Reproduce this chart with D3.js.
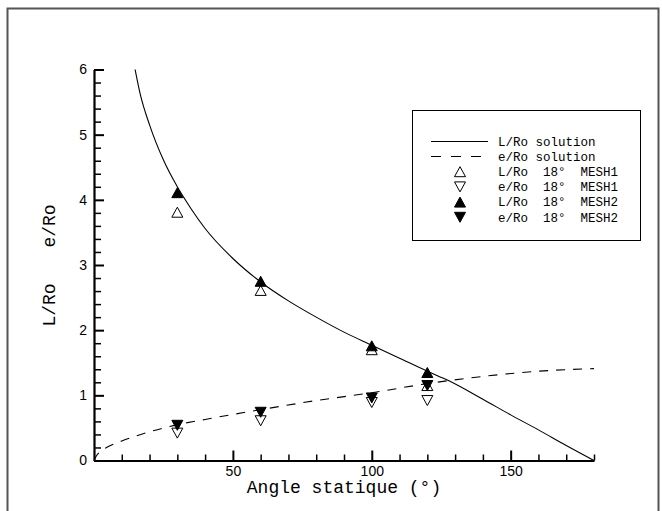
<!DOCTYPE html>
<html>
<head>
<meta charset="utf-8">
<script src="https://cdn.jsdelivr.net/npm/d3@7"></script>
<style>
html,body{margin:0;padding:0;background:#fff;}
svg{display:block;}
</style>
</head>
<body>
<svg id="chart" width="662" height="511"></svg>
<script>
// ---- data ----
const angles = [30, 60, 100, 120];
const L_mesh1 = [3.81, 2.61, 1.70, 1.15];
const e_mesh1 = [0.42, 0.61, 0.89, 0.92];
const L_mesh2 = [4.11, 2.75, 1.76, 1.35];
const e_mesh2 = [0.54, 0.74, 0.96, 1.15];

const L_sol_x = [14.8, 16.6, 20, 25, 30, 35, 40, 50, 60, 70, 80, 90, 100, 110, 120, 127.4, 140, 150, 160, 170, 180];
const L_sol_y = [6.0, 5.63, 5.15, 4.61, 4.2, 3.86, 3.56, 3.1, 2.74, 2.45, 2.2, 1.97, 1.77, 1.57, 1.37, 1.23, 0.94, 0.70, 0.47, 0.23, 0.0];
const e_sol_x = [0, 1, 2, 5, 10, 20, 30, 40, 60, 80, 100, 120, 140, 160, 180];
const e_sol_y = [0, 0.08, 0.13, 0.21, 0.30, 0.44, 0.55, 0.63, 0.78, 0.92, 1.04, 1.18, 1.29, 1.37, 1.41];

const xMajor = [50, 100, 150];
const yMajor = [0, 1, 2, 3, 4, 5, 6];
const xTitle = "Angle statique (°)";
const yTitleParts = ["L/Ro", "e/Ro"];
const legendLabels = ["L/Ro solution", "e/Ro solution", "L/Ro  18°  MESH1", "e/Ro  18°  MESH1", "L/Ro  18°  MESH2", "e/Ro  18°  MESH2"];

// ---- setup ----
const svg = d3.select("#chart");
const x = d3.scaleLinear().domain([0, 180]).range([94, 594]);
const y = d3.scaleLinear().domain([0, 6]).range([460.5, 69.5]);

// frame
svg.append("path")
  .attr("d", "M7.5,511 V8.5 H658.5 V511")
  .attr("fill", "none").attr("stroke", "#555").attr("stroke-width", 2);

const monoFont = "'Liberation Mono','Courier New',monospace";
const sansFont = "'Liberation Sans',Arial,Helvetica,sans-serif";

// minor ticks
const xMinor = d3.range(10, 181, 10).filter(v => !xMajor.includes(v));
const yMinor = d3.range(0, 6.001, 0.2).map(v => +v.toFixed(1)).filter(v => Math.abs(v - Math.round(v)) > 1e-6);

const gxMinor = svg.append("g").attr("transform", `translate(0,${y(0)})`)
  .call(d3.axisBottom(x).tickValues(xMinor).tickSize(-6).tickSizeOuter(0).tickFormat(""));
gxMinor.select(".domain").remove();
gxMinor.selectAll("line").attr("stroke", "#000").attr("stroke-width", 1.5);

const gyMinor = svg.append("g").attr("transform", `translate(${x(0)},0)`)
  .call(d3.axisLeft(y).tickValues(yMinor).tickSize(-7).tickSizeOuter(0).tickFormat(""));
gyMinor.select(".domain").remove();
gyMinor.selectAll("line").attr("stroke", "#000").attr("stroke-width", 1.5);

// major axes
const gx = svg.append("g").attr("transform", `translate(0,${y(0)})`)
  .call(d3.axisBottom(x).tickValues(xMajor).tickSize(-10).tickSizeOuter(0).tickPadding(6));
gx.select(".domain").attr("stroke", "#000").attr("stroke-width", 2.2);
gx.selectAll("line").attr("stroke", "#000").attr("stroke-width", 2);
gx.selectAll("text").attr("font-family", sansFont).attr("font-size", 14).attr("fill", "#000");

const gy = svg.append("g").attr("transform", `translate(${x(0)},0)`)
  .call(d3.axisLeft(y).tickValues(yMajor).tickSize(-10).tickSizeOuter(0).tickPadding(7).tickFormat(d3.format("d")));
gy.select(".domain").attr("stroke", "#000").attr("stroke-width", 2.2);
gy.selectAll("line").attr("stroke", "#000").attr("stroke-width", 2);
gy.selectAll("text").attr("font-family", sansFont).attr("font-size", 14).attr("fill", "#000");

// axis titles
svg.append("text")
  .attr("x", (x(0) + x(180)) / 2).attr("y", 493)
  .attr("text-anchor", "middle")
  .attr("font-family", monoFont).attr("font-size", 18).attr("fill", "#000")
  .text(xTitle);

const yTitleCenters = [305, 226];
yTitleParts.forEach((t, i) => {
  svg.append("text")
    .attr("transform", `translate(55,${yTitleCenters[i]}) rotate(-90)`)
    .attr("text-anchor", "middle")
    .attr("font-family", monoFont).attr("font-size", 18).attr("fill", "#000")
    .text(t);
});

// solution curves
const line = d3.line().x(d => x(d[0])).y(d => y(d[1])).curve(d3.curveMonotoneX);
svg.append("path")
  .datum(L_sol_x.map((v, i) => [v, L_sol_y[i]]))
  .attr("d", line).attr("fill", "none").attr("stroke", "#000").attr("stroke-width", 1.1);
svg.append("path")
  .datum(e_sol_x.map((v, i) => [v, e_sol_y[i]]))
  .attr("d", line).attr("fill", "none").attr("stroke", "#000").attr("stroke-width", 1.1)
  .attr("stroke-dasharray", "9,8");

// markers
const W = 11, H = 10;
const triUp = `M0,${-H/2} L${W/2},${H/2} L${-W/2},${H/2} Z`;
const triDown = `M0,${H/2} L${W/2},${-H/2} L${-W/2},${-H/2} Z`;

function drawMarkers(vals, shape, filled) {
  svg.append("g").selectAll("path")
    .data(angles.map((a, i) => [a, vals[i]]))
    .join("path")
    .attr("transform", d => `translate(${x(d[0])},${y(d[1])})`)
    .attr("d", shape)
    .attr("fill", filled ? "#000" : "#fff")
    .attr("stroke", "#000").attr("stroke-width", 1);
}
drawMarkers(L_mesh1, triUp, false);
drawMarkers(e_mesh1, triDown, false);
drawMarkers(L_mesh2, triUp, true);
drawMarkers(e_mesh2, triDown, true);

// legend
const lg = svg.append("g");
lg.append("rect").attr("x", 412.5).attr("y", 110.5).attr("width", 228).attr("height", 130)
  .attr("fill", "#fff").attr("stroke", "#000").attr("stroke-width", 1);
const rowY = [141.5, 156.5, 171.7, 186.9, 202.1, 217.3];
const legendKinds = [
  {type: "line"}, {type: "dash"},
  {type: "m", shape: triUp, filled: false}, {type: "m", shape: triDown, filled: false},
  {type: "m", shape: triUp, filled: true}, {type: "m", shape: triDown, filled: true}
];
legendKinds.forEach((k, i) => {
  const yy = rowY[i];
  if (k.type === "line" || k.type === "dash") {
    lg.append("line").attr("x1", 431).attr("x2", 488).attr("y1", yy).attr("y2", yy)
      .attr("stroke", "#000").attr("stroke-width", 1.1)
      .attr("stroke-dasharray", k.type === "dash" ? "10,10" : null);
  } else {
    lg.append("path").attr("transform", `translate(460,${yy})`).attr("d", k.shape)
      .attr("fill", k.filled ? "#000" : "#fff").attr("stroke", "#000").attr("stroke-width", 1);
  }
  lg.append("text").attr("x", 498).attr("y", yy).attr("dy", "0.35em")
    .attr("font-family", monoFont).attr("font-size", 12.5).attr("fill", "#000")
    .style("white-space", "pre")
    .text(legendLabels[i]);
});
</script>
</body>
</html>
